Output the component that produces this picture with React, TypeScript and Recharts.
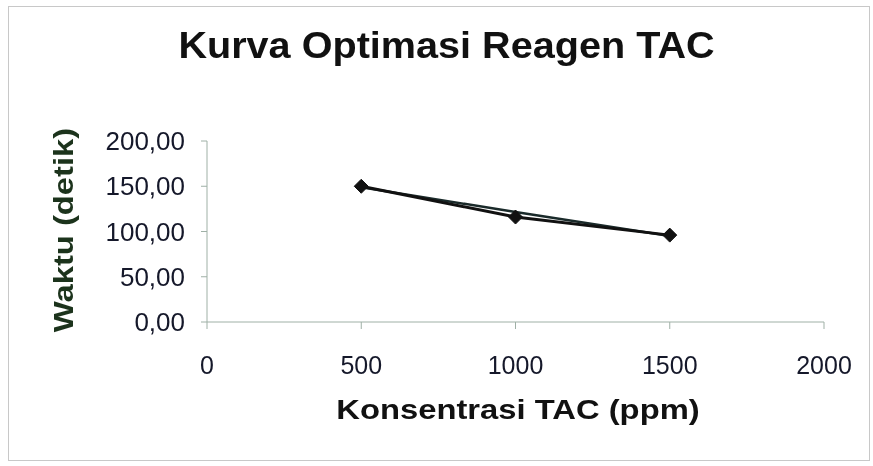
import React from "react";
import { LineChart, Line, XAxis, YAxis } from "recharts";

const concentrations = [500, 1000, 1500];
const waktu = [150, 116, 96];
const trend = [149, 121.5, 95];
const xTicks = [0, 500, 1000, 1500, 2000];
const yTicks = [0, 50, 100, 150, 200];

const data = concentrations.map((x, i) => ({ x, waktu: waktu[i], trend: trend[i] }));

const font = "'Liberation Sans', Arial, sans-serif";

const Diamond = (props: any) => {
  const { cx, cy } = props;
  if (cx == null || cy == null) return null;
  const r = 7;
  return (
    <path
      d={`M${cx},${cy - r} L${cx + r},${cy} L${cx},${cy + r} L${cx - r},${cy} Z`}
      fill="#111"
      stroke="#111"
    />
  );
};

export default function App() {
  return (
    <div
      style={{
        position: "fixed",
        left: 0,
        top: 0,
        width: 873,
        height: 466,
        background: "#fff",
        fontFamily: font,
      }}
    >
      <div
        style={{
          position: "absolute",
          left: 8,
          top: 6,
          width: 862,
          height: 455,
          border: "1px solid #c8c8c8",
          boxSizing: "border-box",
        }}
      />
      <div
        style={{
          position: "absolute",
          left: 0,
          width: 893,
          top: 25,
          textAlign: "center",
          fontSize: 36,
          fontWeight: "bold",
          color: "#111",
          transform: "scaleX(1.1)",
        }}
      >
        Kurva Optimasi Reagen TAC
      </div>
      <div
        style={{
          position: "absolute",
          left: 64,
          top: 230,
          transform: "translate(-50%, -50%) rotate(-90deg) scaleX(1.17)",
          fontSize: 28,
          fontWeight: "bold",
          color: "#1c331c",
          whiteSpace: "nowrap",
        }}
      >
        Waktu (detik)
      </div>
      <div
        style={{
          position: "absolute",
          left: 518 - 300,
          width: 600,
          top: 394,
          textAlign: "center",
          fontSize: 28,
          fontWeight: "bold",
          color: "#111",
          transform: "scaleX(1.17)",
        }}
      >
        Konsentrasi TAC (ppm)
      </div>
      <LineChart
        width={873}
        height={466}
        data={data}
        margin={{ top: 141, right: 49, bottom: 84, left: 97 }}
        style={{ position: "absolute", left: 0, top: 0 }}
      >
        <XAxis
          type="number"
          dataKey="x"
          domain={[0, 2000]}
          ticks={xTicks}
          interval={0}
          stroke="#9fb0a6"
          tickSize={7}
          tickMargin={27}
          tick={{ fill: "#15182a", fontSize: 25, fontFamily: font }}
          height={60}
        />
        <YAxis
          type="number"
          domain={[0, 200]}
          ticks={yTicks}
          interval={0}
          width={110}
          stroke="#9fb0a6"
          tickSize={6}
          tickMargin={16}
          tickFormatter={(v: number) => v.toFixed(2).replace(".", ",")}
          tick={{ fill: "#15182a", fontSize: 26, fontFamily: font }}
        />
        <Line
          type="linear"
          dataKey="trend"
          stroke="#1a2a2a"
          strokeWidth={2.5}
          dot={false}
          activeDot={false}
          isAnimationActive={false}
        />
        <Line
          type="linear"
          dataKey="waktu"
          stroke="#111"
          strokeWidth={3}
          dot={<Diamond />}
          activeDot={false}
          isAnimationActive={false}
        />
      </LineChart>
    </div>
  );
}
